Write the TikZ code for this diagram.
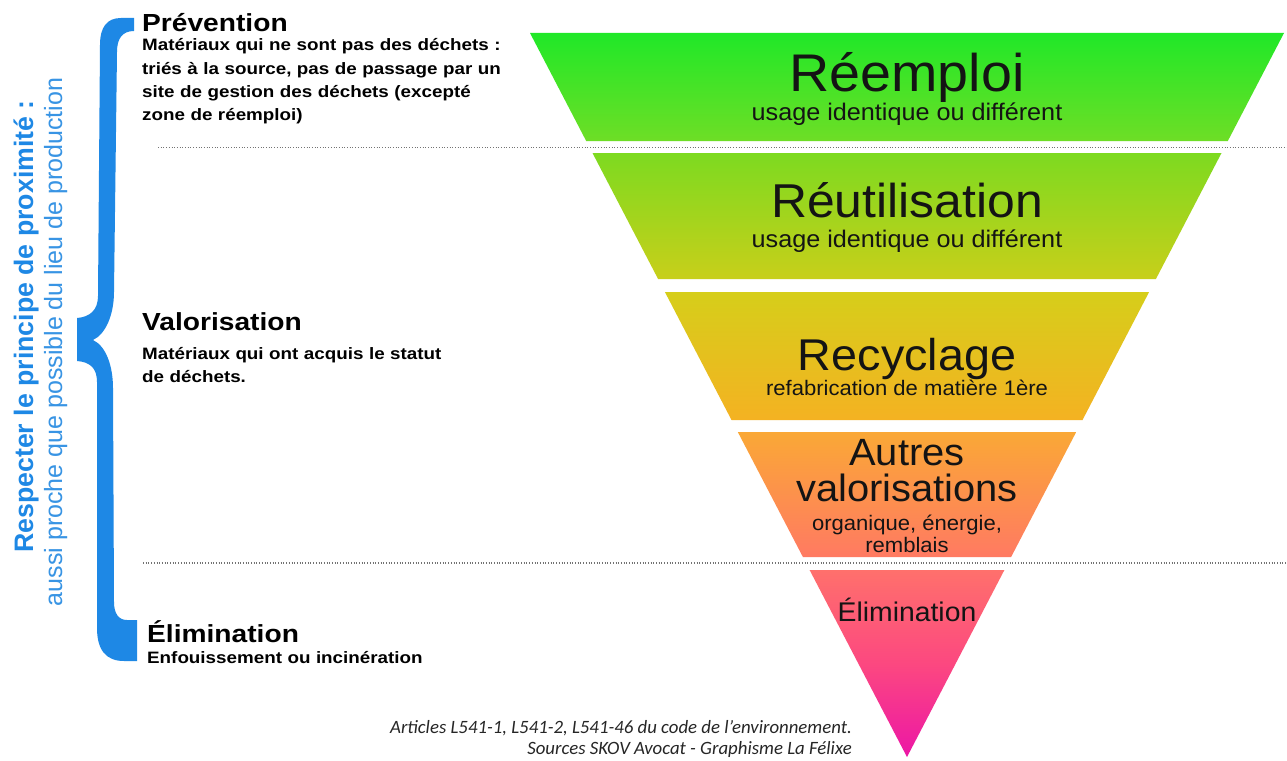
\documentclass[tikz,border=0pt]{standalone}
\usepackage{fontspec}
\setmainfont{Liberation Sans}
\newfontfamily\sidefont[FakeStretch=1.14]{Liberation Sans}
\newfontfamily\funnelfont[FakeStretch=1.05]{Liberation Sans}
\newfontfamily\creditfont{Carlito}

\definecolor{braceblue}{RGB}{30,136,229}
\definecolor{txtblue}{RGB}{56,148,228}
\definecolor{greentop}{RGB}{32,232,40}
\definecolor{greenbot}{RGB}{110,222,38}
\definecolor{limetop}{RGB}{125,218,32}
\definecolor{limebot}{RGB}{200,207,26}
\definecolor{yellowtop}{RGB}{214,206,26}
\definecolor{yellowbot}{RGB}{244,178,34}
\definecolor{orangetop}{RGB}{250,168,54}
\definecolor{orangebot}{RGB}{255,122,98}
\definecolor{pinktop}{RGB}{255,112,108}
\definecolor{pinkmid}{RGB}{252,72,128}
\definecolor{pinkbot}{RGB}{236,22,166}

\begin{document}
\begin{tikzpicture}[x=1pt,y=-1pt,
    lvl/.style={font=\funnelfont\fontsize{#1}{#1}\selectfont,text=black!92,inner sep=0pt,anchor=base},
    head/.style={font=\sidefont\bfseries\fontsize{24.7}{24.7}\selectfont,inner sep=0pt,anchor=base west},
    body/.style={font=\sidefont\bfseries\fontsize{16.5}{23.2}\selectfont,inner sep=0pt,anchor=base west,
      text width=420pt,align=left},
    credit/.style={font=\creditfont\itshape\fontsize{18.8}{18.8}\selectfont,text=black!85,inner sep=0pt,anchor=base east},
    dots/.style={black!55,line width=1.3pt,dash pattern=on 1pt off 1.7pt}]
    \path[use as bounding box,fill=white] (0,0) rectangle (1287,760);

    \shade[top color=greentop,bottom color=greenbot] (530,33) -- (1284,33) -- (1227.8,141) -- (586.2,141) -- cycle;
    \shade[top color=limetop,bottom color=limebot] (592.5,153) -- (1221.5,153) -- (1155.9,279) -- (658.1,279) -- cycle;
    \shade[top color=yellowtop,bottom color=yellowbot] (664.9,292) -- (1149.1,292) -- (1082.5,420) -- (731.5,420) -- cycle;
    \shade[top color=orangetop,bottom color=orangebot] (737.8,432) -- (1076.2,432) -- (1011.1,557) -- (802.9,557) -- cycle;
    \shade[top color=pinktop,bottom color=pinkbot,middle color=pinkmid] (809.6,570) -- (1004.4,570) -- (907,757) -- cycle;

    \coordinate (dotA1) at (158,147.5);
    \coordinate (dotA2) at (1287,147.5);
    \coordinate (dotB1) at (143,563);
    \coordinate (dotB2) at (1287,563);
    \draw[dots] (dotA1) -- (dotA2);
    \draw[dots] (dotB1) -- (dotB2);

    \node[lvl=53] (reemploi) at (907,91) {Réemploi};
    \node[lvl=24] (usage1) at (907,120) {usage identique ou différent};
    \node[lvl=47.5] (reutil) at (907,217) {Réutilisation};
    \node[lvl=24] (usage2) at (907,247) {usage identique ou différent};
    \node[lvl=44.5] (recycl) at (907,370) {Recyclage};
    \node[lvl=21] (refab) at (907,395) {refabrication de matière 1ère};
    \node[lvl=38] (autres) at (907,465) {Autres};
    \node[lvl=38] (valos) at (907,501) {valorisations};
    \node[lvl=21] (orga) at (907,530) {organique, énergie,};
    \node[lvl=21] (rembl) at (907,552) {remblais};
    \node[lvl=27] (elim) at (907,621) {Élimination};

    \fill[braceblue] (134,18) -- (121,18) .. controls (107,18) and (100,27) .. (100,45)
      -- (98,296) .. controls (98,310) and (90,317) .. (77,318)
      -- (77,361) .. controls (90,362) and (97,368) .. (97,382)
      -- (97,628) .. controls (97,650) and (106,661) .. (124,661)
      -- (137,661) -- (137,620) -- (127,620) .. controls (119,620) and (114,614) .. (114,602)
      -- (113,388) .. controls (113,366) and (106,346) .. (93,340)
      .. controls (106,334) and (114,314) .. (114,292)
      -- (117,52) .. controls (117,39) and (122,31) .. (134,31) -- cycle;

    \node[rotate=90,anchor=base,inner sep=0pt,text=braceblue,font=\bfseries\fontsize{26.7}{26.7}\selectfont]
      (respect) at (33,326.5) {Respecter le principe de proximité :};
    \node[rotate=90,anchor=base,inner sep=0pt,text=txtblue,font=\fontsize{25}{25}\selectfont]
      (aussi) at (62,342) {aussi proche que possible du lieu de production};

    \node[head] (prev) at (142,31.7) {Prévention};
    \node[body] (prevtxt) at (142,51) {Matériaux qui ne sont pas des déchets :\\
      triés à la source, pas de passage par un\\
      site de gestion des déchets (excepté\\
      zone de réemploi)};
    \node[head] (valo) at (142,330) {Valorisation};
    \node[body] (valotxt) at (142,359) {Matériaux qui ont acquis le statut\\
      de déchets.};
    \node[head] (elimg) at (147,642) {Élimination};
    \node[body] (elimtxt) at (147,663) {Enfouissement ou incinération};

    \node[credit] (art) at (852,733) {Articles L541-1, L541-2, L541-46 du code de l’environnement.};
    \node[credit] (src) at (852,754.5) {Sources SKOV Avocat - Graphisme La Félixe};
  \end{tikzpicture}
\end{document}
